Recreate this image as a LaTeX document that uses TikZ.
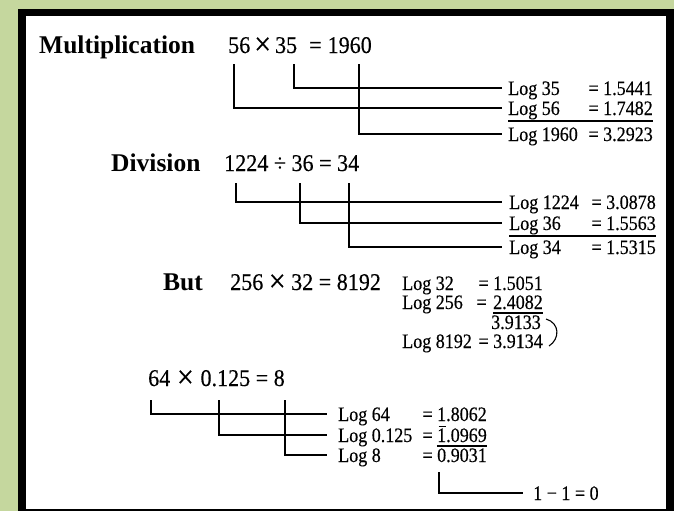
\documentclass[tikz,border=0pt]{standalone}
\usepackage{graphicx}
\usepackage{fontspec}
\setmainfont{Liberation Serif}
\newfontfamily\logfont[FakeStretch=0.88,FakeBold=0.3]{Liberation Serif}
\newfontfamily\eqfont[FakeStretch=0.92,FakeBold=0.3]{Liberation Serif}
\definecolor{bggreen}{HTML}{C5D79E}
\newcommand\barone{\makebox[0pt][l]{\hspace{0.07em}\raisebox{0.74em}{\rule{0.36em}{0.06em}}}1}
\newcommand\bigtimes{\raisebox{-0.07em}{\scalebox{1.35}{×}}}
\begin{document}
\begin{tikzpicture}[x=1pt,y=-1pt,
  title/.style={anchor=base west, inner sep=0pt, font=\fontsize{25.5}{26}\selectfont\bfseries},
  eqn/.style={anchor=base west, inner sep=0pt, font=\eqfont\fontsize{24}{25}\selectfont},
  lgl/.style={anchor=base west, inner sep=0pt, font=\logfont\fontsize{20.5}{21}\selectfont},
  lgr/.style={anchor=base east, inner sep=0pt, font=\logfont\fontsize{20.5}{21}\selectfont},
  conn/.style={line width=1.5pt},
  sumrule/.style={line width=1.1pt}]
\useasboundingbox (0,0) rectangle (674,511);
\fill[bggreen] (0,0) rectangle (674,511);
\fill[black] (18,9) rectangle (674,511);
\fill[white] (26,16) rectangle (666,509);

% ---------- Multiplication ----------
\node[title] (mult) at (39,53) {Multiplication};
\node[eqn] (eqm) at (228,53) {56\,\bigtimes\,35\hspace{0.5em}=\hspace{0.25em}1960};
\coordinate (m56) at (234,64);
\coordinate (m35) at (294,64);
\coordinate (m1960) at (359,64);
\coordinate (e35) at (502,88);
\coordinate (e56) at (502,108);
\coordinate (e1960) at (502,134);
\draw[conn] (m35) |- (e35);
\draw[conn] (m56) |- (e56);
\draw[conn] (m1960) |- (e1960);
\node[lgl] (lm35) at (508,95) {Log 35};
\node[lgr] (vm35) at (653,95) {= 1.5441};
\node[lgl] (lm56) at (508,115) {Log 56};
\node[lgr] (vm56) at (653,115) {= 1.7482};
\node[lgl] (lm1960) at (508,141) {Log 1960};
\node[lgr] (vm1960) at (653,141) {= 3.2923};
\coordinate (rm1) at (508,121);
\coordinate (rm2) at (653,121);
\draw[sumrule] (rm1) -- (rm2);

% ---------- Division ----------
\node[title] (div) at (111,171) {Division};
\node[eqn] (eqd) at (224,171) {1224 ÷ 36 = 34};
\coordinate (d1224) at (236,183);
\coordinate (d36) at (300,183);
\coordinate (d34) at (349,183);
\coordinate (f1224) at (502,202);
\coordinate (f36) at (502,223);
\coordinate (f34) at (502,247);
\draw[conn] (d1224) |- (f1224);
\draw[conn] (d36) |- (f36);
\draw[conn] (d34) |- (f34);
\node[lgl] (ld1224) at (509,209) {Log 1224};
\node[lgr] (vd1224) at (656,209) {= 3.0878};
\node[lgl] (ld36) at (509,230) {Log 36};
\node[lgr] (vd36) at (656,230) {= 1.5563};
\node[lgl] (ld34) at (509,254) {Log 34};
\node[lgr] (vd34) at (656,254) {= 1.5315};
\coordinate (rd1) at (509,236);
\coordinate (rd2) at (656,236);
\draw[sumrule] (rd1) -- (rd2);

% ---------- But ----------
\node[title] (but) at (163,290) {But};
\node[eqn] (eqb) at (230,290) {256 \bigtimes\ 32 = 8192};
\node[lgl] (lb32) at (402,290) {Log 32};
\node[lgr] (vb32) at (543,290) {= 1.5051};
\node[lgl] (lb256) at (402,309) {Log 256};
\node[lgr] (nb256) at (543,309) {2.4082};
\node[lgr] (qb256) at (nb256.base west) {=\kern0.3em};
\draw[sumrule] ([yshift=-4pt]nb256.base west) -- ([yshift=-4pt]nb256.base east);
\node[lgr] (sb) at (541,329) {3.9133};
\node[lgl] (lb8192) at (402,348) {Log 8192};
\node[lgr] (vb8192) at (543,348) {= 3.9134};
\coordinate (br1) at (546,319);
\coordinate (br2) at (549,346);
\draw[line width=1.1pt] (br1) .. controls (560,323) and (560,339) .. (br2);

% ---------- 64 x 0.125 ----------
\node[eqn] (eqs) at (148,386) {64\hspace{0.28em}\bigtimes\hspace{0.28em}0.125 = 8};
\coordinate (s64) at (151,400);
\coordinate (s0125) at (219,400);
\coordinate (s8) at (285,400);
\coordinate (g64) at (327,414);
\coordinate (g0125) at (327,435);
\coordinate (g8) at (327,455);
\draw[conn] (s64) |- (g64);
\draw[conn] (s0125) |- (g0125);
\draw[conn] (s8) |- (g8);
\node[lgl] (ls64) at (338,421) {Log 64};
\node[lgr] (vs64) at (487,421) {= 1.8062};
\node[lgl] (ls0125) at (338,442) {Log 0.125};
\node[lgr] (ns0125) at (487,442) {\barone.0969};
\node[lgr] (qs0125) at (ns0125.base west) {=\kern0.2em};
\node[lgl] (ls8) at (338,462) {Log 8};
\node[lgr] (vs8) at (487,462) {= 0.9031};
\draw[sumrule] ([yshift=-4pt]ns0125.base west) -- ([yshift=-4pt]ns0125.base east);
\coordinate (k1) at (439,472);
\coordinate (k2) at (523,493);
\draw[conn] (k1) |- (k2);
\node[lgl] (res) at (533,500) {1 − 1 = 0};
\end{tikzpicture}
\end{document}
